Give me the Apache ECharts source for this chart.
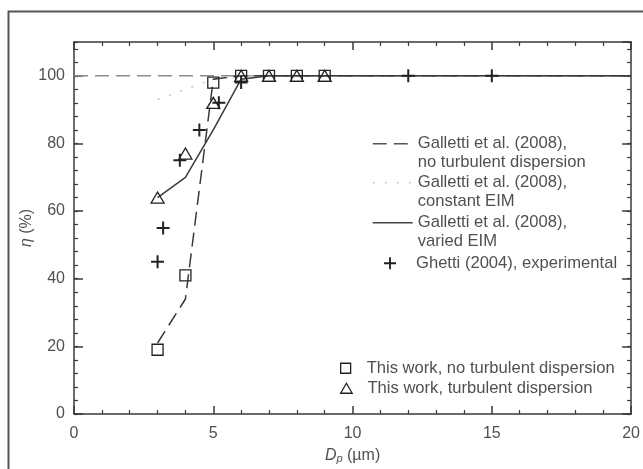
<!DOCTYPE html>
<html>
<head>
<meta charset="utf-8">
<script src="https://cdn.jsdelivr.net/npm/echarts@6/dist/echarts.min.js"></script>
<style>
html,body{margin:0;padding:0;background:#fff;}
#chart{width:643px;height:469px;}
</style>
</head>
<body>
<div id="chart"></div>
<script>
// ---- data ----
const xTicks = [0, 5, 10, 15, 20];
const yTicks = [0, 20, 40, 60, 80, 100];

// reference 100 % line (grey dashed)
const refX = [0, 20];
const refY = [100, 100];

// Galletti et al. (2008), no turbulent dispersion
const noTurbX = [3, 4, 5, 6, 20];
const noTurbY = [21, 34, 99, 100, 100];

// Galletti et al. (2008), constant EIM
const constX = [3, 4, 5, 6, 20];
const constY = [93, 96, 99, 100, 100];

// Galletti et al. (2008), varied EIM
const variedX = [3, 4, 5, 6, 7, 20];
const variedY = [64, 70, 84, 99, 100, 100];

// Ghetti (2004), experimental
const ghettiX = [3, 3.2, 3.8, 4.5, 5.2, 6, 12, 15];
const ghettiY = [45, 55, 75, 84, 92, 98, 100, 100];

// This work, no turbulent dispersion
const sqX = [3, 4, 5, 6, 7, 8, 9];
const sqY = [19, 41, 98, 100, 100, 100, 100];

// This work, turbulent dispersion
const triX = [3, 4, 5, 6, 7, 8, 9];
const triY = [64, 77, 92, 100, 100, 100, 100];

const names = {
  noTurb: 'Galletti et al. (2008),\nno turbulent dispersion',
  cst: 'Galletti et al. (2008),\nconstant EIM',
  varied: 'Galletti et al. (2008),\nvaried EIM',
  ghetti: 'Ghetti (2004), experimental',
  sq: 'This work, no turbulent dispersion',
  tri: 'This work, turbulent dispersion'
};

const zip = (xs, ys) => xs.map((x, i) => [x, ys[i]]);

// ---- styles ----
const FONT = 'Liberation Sans, Arial, sans-serif';
const TXT = '#505050';
const AX = '#3a3a3a';
const LFS = 16.6;
const CROSS = 'path://M5.5,0H7.5V5.5H13V7.5H7.5V13H5.5V7.5H0V5.5H5.5Z';
const SQUARE = 'path://M0,0H10V10H0Z';
const TRI = 'path://M6,0L12,10.4L0,10.4Z';
const noTurbDash = [14, 7];
const constDash = [2, 10];

const chart = echarts.init(document.getElementById('chart'), null, {renderer: 'canvas'});

function xAxisDef(pos, labels) {
  return {
    type: 'value', position: pos, min: 0, max: 20, interval: 5,
    axisLine: {show: true, onZero: false, lineStyle: {color: AX, width: 1.5}},
    axisTick: {show: true, inside: true, length: 8, lineStyle: {color: AX, width: 1.5}},
    minorTick: {show: true, splitNumber: 5, length: 4, lineStyle: {color: AX, width: 1.2}},
    splitLine: {show: false},
    axisLabel: labels ? {show: true, fontSize: 16, color: TXT, fontFamily: FONT, margin: 12,
      formatter: v => (xTicks.indexOf(v) >= 0 ? String(v) : '')} : {show: false}
  };
}
function yAxisDef(pos, major, labels) {
  return {
    type: 'value', position: pos, min: 0, max: 110, interval: major ? 20 : 4,
    axisLine: {show: major, onZero: false, lineStyle: {color: AX, width: 1.5}},
    axisTick: {show: true, inside: true, length: major ? 9 : 4, lineStyle: {color: AX, width: major ? 1.5 : 1.2}},
    splitLine: {show: false},
    axisLabel: labels ? {show: true, fontSize: 16, color: TXT, fontFamily: FONT, margin: 9, showMaxLabel: false,
      formatter: v => (yTicks.indexOf(v) >= 0 ? String(v) : '')} : {show: false}
  };
}

const xBottom = xAxisDef('bottom', true);
xBottom.name = '{d|D}{p|p}{u| (µm)}';
xBottom.nameLocation = 'middle';
xBottom.nameGap = 33;
xBottom.nameMoveOverlap = false;
xBottom.nameTextStyle = {
  color: TXT, fontFamily: FONT, fontSize: 16,
  rich: {
    d: {fontStyle: 'italic', fontSize: 16, color: TXT, fontFamily: FONT},
    p: {fontStyle: 'italic', fontSize: 11, color: TXT, fontFamily: FONT, verticalAlign: 'bottom', padding: [6, 0, 0, 0]},
    u: {fontSize: 16, color: TXT, fontFamily: FONT}
  }
};
const xTop = xAxisDef('top', false);

const yLeft = yAxisDef('left', true, true);
yLeft.name = '{e|η} (%)';
yLeft.nameLocation = 'middle';
yLeft.nameGap = 39;
yLeft.nameMoveOverlap = false;
yLeft.nameTextStyle = {
  color: TXT, fontFamily: FONT, fontSize: 16,
  rich: {e: {fontStyle: 'italic', fontSize: 16, color: TXT, fontFamily: FONT}}
};

function baseLegend(extra) {
  return Object.assign({
    orient: 'vertical', padding: 0, selectedMode: false,
    textStyle: {fontSize: LFS, color: TXT, fontFamily: FONT, lineHeight: 18.5}
  }, extra);
}
// two-line legend entries: a leading blank line keeps the key mark beside the first text line
function lineLegend(name, top, lineStyle) {
  return baseLegend({
    left: 372, top: top, itemWidth: 40, itemHeight: 12,
    formatter: n => ' \n' + n,
    data: [{name: name, itemStyle: {opacity: 0, borderWidth: 0}, lineStyle: lineStyle}]
  });
}

const option = {
  backgroundColor: '#fff',
  animation: false,
  graphic: [{
    type: 'rect', left: 6, top: 9, silent: true,
    shape: {width: 700, height: 520},
    style: {fill: 'none', stroke: '#555', lineWidth: 2}
  }],
  grid: {left: 74, right: 8, top: 42, bottom: 55, containLabel: false},
  xAxis: [xBottom, xTop],
  yAxis: [yLeft, yAxisDef('left', false, false), yAxisDef('right', true, false), yAxisDef('right', false, false)],
  legend: [
    lineLegend(names.noTurb, 116, {color: '#555', width: 1.5, type: noTurbDash}),
    lineLegend(names.cst, 155, {color: '#c4c4c4', width: 1.5, type: constDash}),
    lineLegend(names.varied, 195, {color: '#444', width: 1.5, type: 'solid'}),
    baseLegend({
      left: 384, top: 254, itemWidth: 42, itemHeight: 12,
      data: [{name: names.ghetti, icon: CROSS, itemStyle: {color: '#222', borderWidth: 0}}]
    }),
    baseLegend({
      left: 340, top: 359, itemWidth: 32, itemHeight: 10,
      data: [{name: names.sq, icon: SQUARE, itemStyle: {color: 'rgba(0,0,0,0)', borderColor: '#222', borderWidth: 1.3}}]
    }),
    baseLegend({
      left: 340, top: 379, itemWidth: 32, itemHeight: 10,
      data: [{name: names.tri, icon: TRI, itemStyle: {color: 'rgba(0,0,0,0)', borderColor: '#222', borderWidth: 1.3}}]
    })
  ],
  series: [
    {name: 'ref', type: 'line', data: zip(refX, refY), symbol: 'none', z: 1,
      lineStyle: {color: '#8c8c8c', width: 1.6, type: noTurbDash}},
    {name: names.cst, type: 'line', data: zip(constX, constY), symbol: 'none', z: 2,
      lineStyle: {color: '#c4c4c4', width: 1.5, type: constDash}},
    {name: names.noTurb, type: 'line', data: zip(noTurbX, noTurbY), symbol: 'none', z: 3,
      lineStyle: {color: '#3a3a3a', width: 1.5, type: noTurbDash}},
    {name: names.varied, type: 'line', data: zip(variedX, variedY), symbol: 'none', z: 4,
      lineStyle: {color: '#3a3a3a', width: 1.5, type: 'solid'}},
    {name: names.ghetti, type: 'scatter', data: zip(ghettiX, ghettiY), symbol: CROSS, symbolSize: 13, z: 5,
      itemStyle: {color: '#222', borderWidth: 0, opacity: 1}},
    {name: names.sq, type: 'scatter', data: zip(sqX, sqY), symbol: SQUARE, symbolSize: 11, z: 6,
      itemStyle: {color: 'rgba(0,0,0,0)', borderColor: '#222', borderWidth: 1.3, opacity: 1}},
    {name: names.tri, type: 'scatter', data: zip(triX, triY), symbol: TRI, symbolSize: [13, 11], z: 7,
      itemStyle: {color: 'rgba(0,0,0,0)', borderColor: '#222', borderWidth: 1.3, opacity: 1}}
  ]
};
chart.setOption(option);
</script>
</body>
</html>
